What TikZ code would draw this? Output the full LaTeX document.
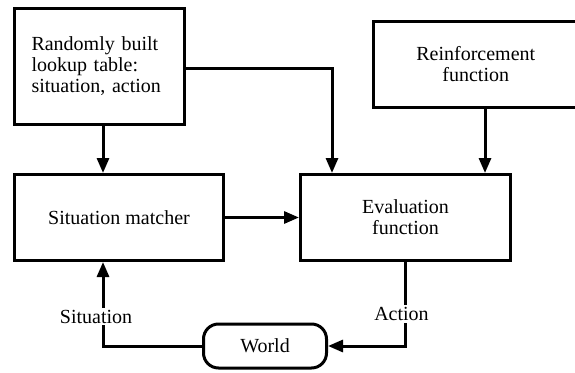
\documentclass[tikz,border=0pt]{standalone}
\usepackage{fontspec}
\setmainfont{Liberation Serif}
\usepackage{tikz}
\usetikzlibrary{shapes}
\usetikzlibrary{arrows.meta}
\usetikzlibrary{positioning}
\tikzstyle{block}=[rectangle,draw,line width=3pt,inner sep=0pt,align=center,
        font=\fontsize{20}{21}\selectfont]
\tikzstyle{world}=[rectangle,draw,line width=3pt,rounded corners=15pt,inner sep=0pt,
        font=\fontsize{20}{21}\selectfont]
\tikzstyle{label}=[fill=white,inner sep=2pt,font=\fontsize{20}{21}\selectfont]
\tikzstyle{link}=[-{Triangle[length=15pt,width=12pt]},line width=3pt]

\begin{document}
\begin{tikzpicture}[x=1pt,y=-1pt]
\useasboundingbox (0,0) rectangle (575,372);
\node[block,align=left,text width=136pt,inner xsep=17pt,minimum height=116pt] (table) at (99.5,66.5) {Randomly built\\lookup table:\\situation, action};
\node[block,minimum width=204.5pt,minimum height=86pt] (reinf) at (475.75,64.5) {Reinforcement\\function};
\node[block,minimum width=209pt,minimum height=86pt] (matcher) at (119,217.5) {Situation matcher};
\node[block,minimum width=210pt,minimum height=86pt] (eval) at (405.5,217.5) {Evaluation\\function};
\node[world,minimum width=123pt,minimum height=44pt] (world) at (265,346) {World};
%connections
\draw[link] ([xshift=3.5pt]table.south) -- ([xshift=3.5pt]table.south |- matcher.north);
\draw[link] ([yshift=-1.5pt]table.east) -| ([xshift=-73.5pt]eval.north);
\draw[link] ([xshift=9.25pt]reinf.south) -- ([xshift=9.25pt]reinf.south |- eval.north);
\draw[link] (matcher.east) -- (eval.west);
\draw[link] (eval.south) |- (world.east) node[label,pos=0.31,xshift=-4pt]{Action};
\draw[link] (world.west) -| ([xshift=-16pt]matcher.south) node[label,pos=0.675,xshift=-7pt]{Situation};
\end{tikzpicture}
\end{document}
